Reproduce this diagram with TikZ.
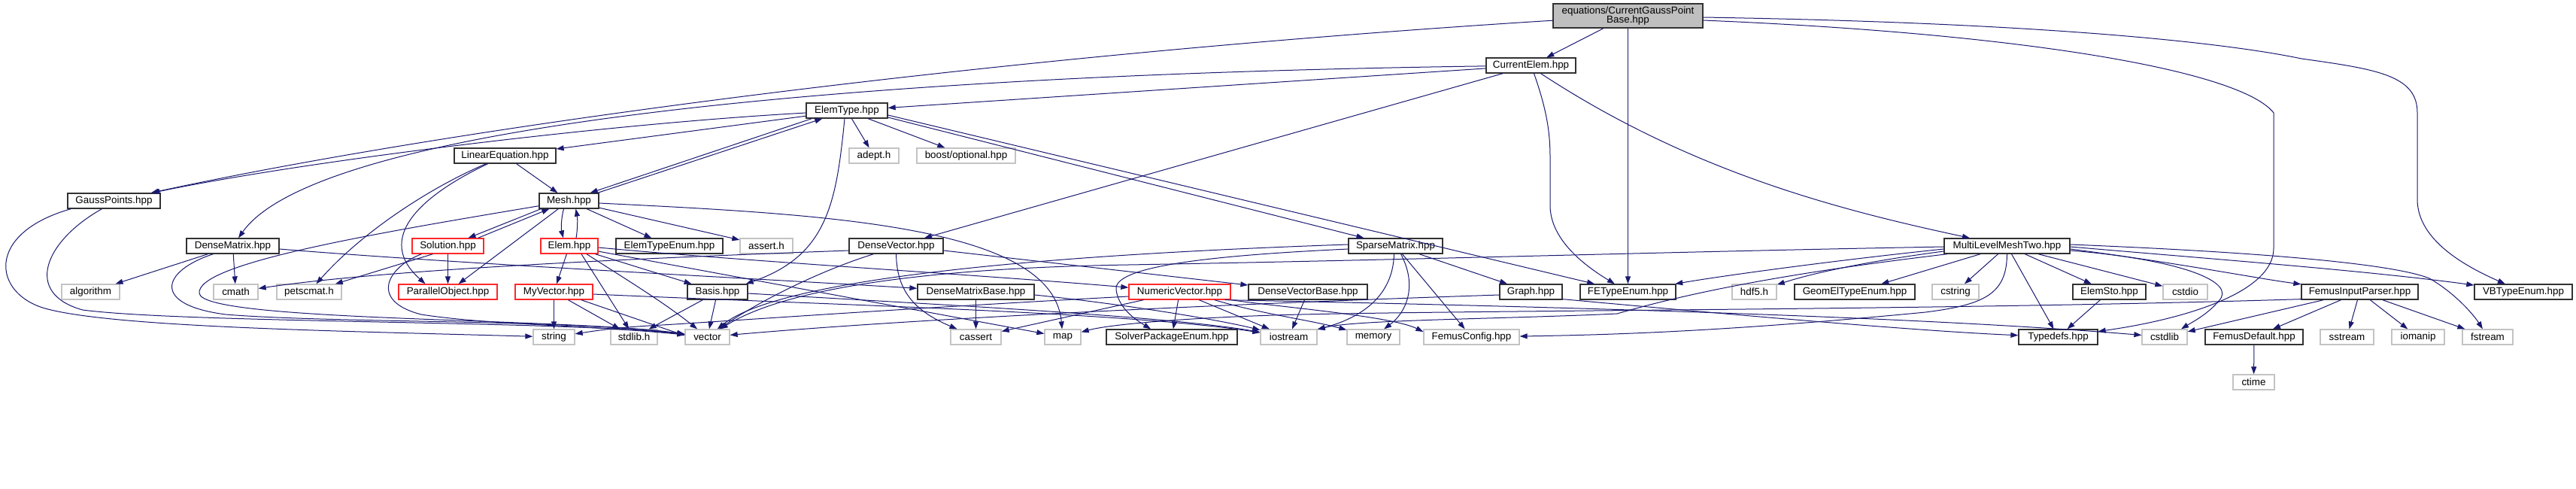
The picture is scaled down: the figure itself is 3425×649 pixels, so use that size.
\documentclass[tikz,border=0pt]{standalone}
\usepackage{fontspec}
\setmainfont{Liberation Sans}
\usetikzlibrary{arrows.meta,calc}
\definecolor{edgec}{RGB}{25,25,112}
\definecolor{boxc}{RGB}{50,50,50}
\definecolor{grayc}{RGB}{195,195,195}
\definecolor{redc}{RGB}{255,40,40}
\definecolor{rootfill}{RGB}{191,191,191}
\begin{document}
\begin{tikzpicture}[x=1pt,y=-1pt,
  every node/.style={font=\fontsize{13.4}{12.5}\selectfont, inner sep=0pt, minimum height=20pt, fill=white, line width=1.3pt},
  hbox/.style={draw=boxc},
  sbox/.style={draw=grayc},
  rbox/.style={draw=redc},
  edg/.style={draw=edgec, line width=1pt, -{Triangle[length=10pt,width=7pt]}}]
\fill[white] (0,0) rectangle (3425,649);
\useasboundingbox (0,0) rectangle (3425,649);
% ---------- nodes ----------
\node[hbox, fill=rootfill, minimum width=199pt, minimum height=32pt, align=center] (root) at (2164.5,21) {equations/CurrentGaussPoint\\Base.hpp};
\node[hbox, minimum width=119pt] (cur) at (2035.5,87) {CurrentElem.hpp};
\node[hbox, minimum width=108pt] (elemtype) at (1126,147) {ElemType.hpp};
\node[hbox, minimum width=135pt] (lineq) at (671.5,207) {LinearEquation.hpp};
\node[sbox, minimum width=66pt] (adept) at (1162,207) {adept.h};
\node[sbox, minimum width=131pt] (boost) at (1284.5,207) {boost/optional.hpp};
\node[hbox, minimum width=123pt] (gauss) at (151.5,267) {GaussPoints.hpp};
\node[hbox, minimum width=79pt] (mesh) at (756.5,267) {Mesh.hpp};
\node[hbox, minimum width=123pt] (densematrix) at (309.5,327) {DenseMatrix.hpp};
\node[rbox, minimum width=95pt] (solution) at (595.5,327) {Solution.hpp};
\node[rbox, minimum width=76pt] (elem) at (757,327) {Elem.hpp};
\node[hbox, minimum width=142pt] (elemtypeenum) at (890,327) {ElemTypeEnum.hpp};
\node[sbox, minimum width=70pt] (asserth) at (1019,327) {assert.h};
\node[hbox, minimum width=125pt] (densevector) at (1191.5,327) {DenseVector.hpp};
\node[hbox, minimum width=125pt] (sparsematrix) at (1855.5,327) {SparseMatrix.hpp};
\node[hbox, minimum width=167pt] (mlmt) at (2668.5,327) {MultiLevelMeshTwo.hpp};
\node[sbox, minimum width=77pt] (algorithm) at (120.5,388) {algorithm};
\node[sbox, minimum width=59pt] (cmath) at (313.5,388) {cmath};
\node[sbox, minimum width=86pt] (petscmat) at (411,388) {petscmat.h};
\node[rbox, minimum width=131pt] (parallelobj) at (595.5,388) {ParallelObject.hpp};
\node[rbox, minimum width=103pt] (myvector) at (736.5,388) {MyVector.hpp};
\node[hbox, minimum width=80pt] (basis) at (954,388) {Basis.hpp};
\node[hbox, minimum width=155pt] (dmbase) at (1297.5,388) {DenseMatrixBase.hpp};
\node[rbox, minimum width=135pt] (numvec) at (1568.5,388) {NumericVector.hpp};
\node[hbox, minimum width=158pt] (dvbase) at (1739,388) {DenseVectorBase.hpp};
\node[hbox, minimum width=83pt] (graph) at (2035.5,388) {Graph.hpp};
\node[hbox, minimum width=127pt] (fetype) at (2164.5,388) {FETypeEnum.hpp};
\node[sbox, minimum width=59pt] (hdf5) at (2332.5,388) {hdf5.h};
\node[hbox, minimum width=160pt] (geomel) at (2466,388) {GeomElTypeEnum.hpp};
\node[sbox, minimum width=62pt] (cstring) at (2600,388) {cstring};
\node[hbox, minimum width=97pt] (elemsto) at (2804.5,388) {ElemSto.hpp};
\node[sbox, minimum width=59pt] (cstdio) at (2905.5,388) {cstdio};
\node[hbox, minimum width=155pt] (fip) at (3137.5,388) {FemusInputParser.hpp};
\node[hbox, minimum width=130pt] (vbtype) at (3355,388) {VBTypeEnum.hpp};
\node[sbox, minimum width=55pt] (string) at (736.5,448) {string};
\node[sbox, minimum width=62pt] (stdlibh) at (843,448) {stdlib.h};
\node[sbox, minimum width=59pt] (vector) at (940.5,448) {vector};
\node[sbox, minimum width=67pt] (cassert) at (1297.5,448) {cassert};
\node[sbox, minimum width=48pt] (map) at (1413,448) {map};
\node[hbox, minimum width=174pt] (solverpkg) at (1558,448) {SolverPackageEnum.hpp};
\node[sbox, minimum width=75pt] (iostream) at (1713.5,448) {iostream};
\node[sbox, minimum width=70pt] (memory) at (1826,448) {memory};
\node[sbox, minimum width=127pt] (femusconfig) at (1956.5,448) {FemusConfig.hpp};
\node[hbox, minimum width=105pt] (typedefs) at (2736.5,448) {Typedefs.hpp};
\node[sbox, minimum width=60pt] (cstdlib) at (2878,448) {cstdlib};
\node[hbox, minimum width=130pt] (femusdefault) at (2997,448) {FemusDefault.hpp};
\node[sbox, minimum width=71pt] (sstream) at (3120.5,448) {sstream};
\node[sbox, minimum width=70pt] (iomanip) at (3215,448) {iomanip};
\node[sbox, minimum width=67pt] (fstream) at (3307.5,448) {fstream};
\node[sbox, minimum width=55pt] (ctime) at (2996.5,508) {ctime};
% ---------- edges ----------
% root
\draw[edg] (root) .. controls (1300,75) and (600,170) .. (gauss);
\draw[edg] (root) -- (cur);
\draw[edg] (root) -- (fetype);
\draw[edg] ($(root.east)+(0,6)$) .. controls (2700,45) and (2980,95) .. (3023,150) -- (3023,330) .. controls (3023,390) and (2900,425) .. (typedefs);
\draw[edg] ($(root.east)+(0,2)$) .. controls (2700,30) and (2950,55) .. (3060,78) .. controls (3160,92) and (3214,100) .. (3214,150) -- (3214,265) .. controls (3214,320) and (3280,355) .. (vbtype);
% CurrentElem
\draw[edg] (cur) -- (elemtype);
\draw[edg] (cur) .. controls (1100,100) and (420,170) .. (densematrix);
\draw[edg] (cur) -- (densevector);
\draw[edg] ($(cur.south)+(4,0)$) .. controls (2058,150) and (2061,180) .. (2061,210) -- (2061,273) .. controls (2061,320) and (2110,355) .. (fetype);
\draw[edg] ($(cur.south)+(13,0)$) .. controls (2250,230) and (2450,280) .. (mlmt);
% ElemType
\draw[edg] (elemtype) -- (lineq);
\draw[edg] (elemtype) .. controls (800,165) and (400,215) .. (gauss);
\draw[edg] ($(elemtype.south west)+(8,0)$) -- ($(mesh.north east)+(-12,0)$);
\draw[edg] ($(mesh.north east)+(-2,0)$) -- ($(elemtype.south west)+(22,0)$);
\draw[edg] ($(elemtype.south)+(-3,0)$) .. controls (1112,270) and (1100,340) .. ($(basis.north east)+(-3,0)$);
\draw[edg] (elemtype) -- (adept);
\draw[edg] (elemtype) -- (boost);
\draw[edg] ($(elemtype.east)+(0,9)$) -- (sparsematrix);
\draw[edg] ($(elemtype.east)+(0,6)$) -- (fetype);
% LinearEquation
\draw[edg] (lineq) -- (mesh);
\draw[edg] (lineq) .. controls (570,250) and (480,310) .. (petscmat);
\draw[edg] (lineq) .. controls (580,250) and (490,310) .. ($(parallelobj.north)+(-30,0)$);
% Mesh
\draw[edg] ($(mesh.south west)+(3,0)$) -- ($(solution.north)+(27,0)$);
\draw[edg] ($(solution.north)+(40,0)$) -- ($(mesh.south west)+(14,0)$);
\draw[edg] ($(mesh.south)+(-7,0)$) .. controls (746,290) and (746,305) .. ($(elem.north)+(-8,0)$);
\draw[edg] ($(elem.north)+(9,0)$) .. controls (768,305) and (768,290) .. ($(mesh.south)+(9,0)$);
\draw[edg] (mesh) -- (elemtypeenum);
\draw[edg] (mesh) -- (asserth);
\draw[edg] (mesh) -- (parallelobj);
\draw[edg] ($(mesh.east)+(0,3)$) .. controls (1100,285) and (1400,300) .. (map);
\draw[edg] (mesh) .. controls (500,310) and (260,350) .. (265,390) .. controls (270,428) and (750,422) .. (vector);
% GaussPoints
\draw[edg] ($(gauss.south west)+(5,0)$) .. controls (-20,310) and (-10,390) .. (60,410) .. controls (150,435) and (450,440) .. (string);
\draw[edg] ($(gauss.south)+(-16,0)$) .. controls (60,320) and (30,390) .. (110,412) .. controls (250,430) and (750,426) .. (vector);
% DenseMatrix
\draw[edg] (densematrix) -- (algorithm);
\draw[edg] (densematrix) -- (cmath);
\draw[edg] ($(densematrix.east)+(0,4)$) .. controls (600,350) and (1000,370) .. (dmbase);
\draw[edg] ($(densematrix.south)+(-26,0)$) .. controls (215,360) and (200,405) .. (300,418) .. controls (450,430) and (750,424) .. (vector);
% Solution
\draw[edg] (solution) -- (parallelobj);
\draw[edg] ($(solution.south)+(-20,0)$) -- (petscmat);
\draw[edg] ($(solution.south)+(-35,0)$) .. controls (515,355) and (490,400) .. (560,418) .. controls (650,432) and (780,432) .. (vector);
% Elem
\draw[edg] (elem) -- (myvector);
\draw[edg] (elem) -- (basis);
\draw[edg] ($(elem.south)+(23,0)$) .. controls (830,370) and (880,400) .. (vector);
\draw[edg] ($(elem.south)+(16,0)$) -- (stdlibh);
\draw[edg] ($(elem.east)+(0,2)$) .. controls (1000,348) and (1300,365) .. (numvec);
\draw[edg] (elem) -- (map);
% MyVector
\draw[edg] (myvector) -- (string);
\draw[edg] (myvector) -- (stdlibh);
\draw[edg] ($(myvector.east)+(0,3)$) .. controls (1100,405) and (1500,415) .. (iostream);
\draw[edg] ($(myvector.south east)+(-16,0)$) -- ($(vector.west)+(0,-2)$);
% Basis
\draw[edg] (basis) -- (vector);
\draw[edg] (basis) -- (stdlibh);
\draw[edg] ($(basis.east)+(0,2)$) .. controls (1250,405) and (1550,420) .. (iostream);
% DenseVector
\draw[edg] ($(densevector.south)+(-30,0)$) .. controls (1090,360) and (1010,400) .. (vector);
\draw[edg] (densevector) .. controls (1192,390) and (1220,415) .. (cassert);
\draw[edg] ($(densevector.east)+(0,6)$) -- (dvbase);
\draw[edg] ($(densevector.west)+(0,6)$) .. controls (800,345) and (500,360) .. (cmath);
% DenseMatrixBase
\draw[edg] (dmbase) -- (cassert);
\draw[edg] ($(dmbase.east)+(0,4)$) .. controls (1500,405) and (1620,425) .. (iostream);
% NumericVector
\draw[edg] (numvec) -- (solverpkg);
\draw[edg] (numvec) -- (iostream);
\draw[edg] (numvec) -- (cassert);
\draw[edg] ($(numvec.west)+(0,6)$) .. controls (1200,410) and (950,428) .. (880,432) .. controls (820,435) and (790,440) .. (string);
\draw[edg] ($(numvec.south east)+(-22,0)$) .. controls (1680,418) and (1740,425) .. (memory);
\draw[edg] (numvec.south east) .. controls (1700,408) and (1850,420) .. ($(femusconfig.west)+(0,-7)$);
\draw[edg] ($(numvec.south east)+(-8,0)$) .. controls (2200,410) and (2600,425) .. (cstdlib);
% DenseVectorBase
\draw[edg] (dvbase) -- (iostream);
% SparseMatrix
\draw[edg] ($(sparsematrix.west)+(0,-2)$) .. controls (1500,335) and (1050,360) .. (vector);
\draw[edg] ($(sparsematrix.west)+(0,4)$) .. controls (1600,340) and (1480,355) .. (1484,385) .. controls (1487,410) and (1510,425) .. ($(solverpkg.north)+(-28,0)$);
\draw[edg] ($(sparsematrix.south)+(-2,0)$) .. controls (1852,400) and (1800,425) .. (iostream);
\draw[edg] ($(sparsematrix.south)+(7,0)$) .. controls (1885,380) and (1870,415) .. (memory);
\draw[edg] (sparsematrix) -- (femusconfig);
\draw[edg] (sparsematrix) -- (graph);
% Graph
\draw[edg] ($(graph.west)+(0,4)$) .. controls (1600,405) and (1200,425) .. (vector);
\draw[edg] ($(graph.south east)+(0,-1)$) .. controls (2300,418) and (2550,440) .. (typedefs);
% MultiLevelMeshTwo
\draw[edg] ($(mlmt.west)+(0,4)$) .. controls (2450,345) and (2300,365) .. (fetype);
\draw[edg] ($(mlmt.west)+(0,7)$) .. controls (2500,345) and (2420,360) .. (hdf5);
\draw[edg] (mlmt) -- (geomel);
\draw[edg] (mlmt) -- (cstring);
\draw[edg] (mlmt) -- (elemsto);
\draw[edg] (mlmt) -- (cstdio);
\draw[edg] (mlmt) -- (typedefs);
\draw[edg] ($(mlmt.east)+(0,6)$) .. controls (2900,345) and (2975,375) .. (2950,400) .. controls (2935,418) and (2915,428) .. ($(cstdlib.north)+(22,0)$);
\draw[edg] ($(mlmt.east)+(0,4)$) .. controls (2900,350) and (3000,370) .. (fip);
\draw[edg] ($(mlmt.east)+(0,1)$) .. controls (2950,345) and (3150,360) .. (vbtype);
\draw[edg] ($(mlmt.east)+(0,-2)$) .. controls (3000,335) and (3180,350) .. (3230,370) .. controls (3265,390) and (3290,420) .. (fstream);
\draw[edg] (mlmt.south) .. controls (2668,390) and (2640,405) .. (2560,415) .. controls (2300,440) and (2150,445) .. (femusconfig);
\draw[edg] ($(mlmt.west)+(0,1)$) .. controls (2200,335) and (1900,345) .. (1500,352) .. controls (1250,356) and (1050,380) .. (vector);
\draw[edg] ($(mlmt.south west)+(5,0)$) .. controls (2400,360) and (2260,385) .. (2150,417) .. controls (2000,424) and (1800,425) .. (iostream);
% FemusInputParser
\draw[edg] (fip) -- (femusdefault);
\draw[edg] (fip) -- (sstream);
\draw[edg] (fip) -- (iomanip);
\draw[edg] (fip) -- (fstream);
\draw[edg] ($(fip.south west)+(30,0)$) -- (cstdlib);
\draw[edg] ($(fip.south west)+(0,-1)$) .. controls (2600,412) and (2000,412) .. (1730,418) .. controls (1600,421) and (1480,430) .. (map);
% others
\draw[edg] (elemsto) -- (typedefs);
\draw[edg] (femusdefault) -- (ctime);
\end{tikzpicture}
\end{document}
